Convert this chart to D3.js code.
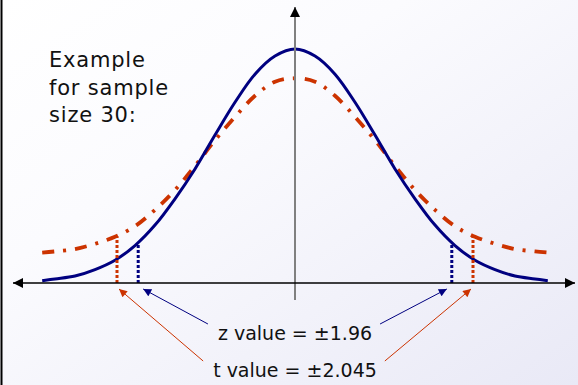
<!doctype html>
<html lang="en">
<head>
<meta charset="utf-8">
<title>z vs t distribution</title>
<script src="https://cdn.jsdelivr.net/npm/d3@7"></script>
<style>
	html, body { margin:0; padding:0; }
	body { width:578px; height:385px; overflow:hidden; }
	text { font-family: "DejaVu Sans", Verdana, sans-serif; fill:#111; }
</style>
</head>
<body>
<svg id="chart" width="578" height="385"></svg>
<script>
// half-curve samples (x in z units, y in density units), mirrored around 0
var xs        = [0, 0.25, 0.5, 0.75, 1.0, 1.25, 1.5, 1.75, 2.0, 2.25, 2.5, 2.75, 3.0, 3.16];
var zDensity  = [0.400, 0.388, 0.357, 0.309, 0.253, 0.195, 0.144, 0.099, 0.064, 0.039, 0.023, 0.012, 0.007, 0.004];
var tDensity  = [0.350, 0.344, 0.320, 0.284, 0.244, 0.200, 0.159, 0.125, 0.097, 0.079, 0.067, 0.058, 0.054, 0.052];

// critical value markers: where they sit on the drawing, and their heights
var zCrit = 1.96,  zCritHeight = 0.068;
var tCrit = 2.225, tCritHeight = 0.080;

var noteLines = ["Example", "for sample", "size 30:"];
var zLabel = "z value = \u00b11.96";
var tLabel = "t value = \u00b12.045";

var svg = d3.select("#chart");
var W = 578, H = 385;

var xScale = d3.scaleLinear().domain([-3.5, 3.5]).range([15, 575]);
var yScale = d3.scaleLinear().domain([0, 0.4]).range([283, 49]);

// background gradient + left border
var defs = svg.append("defs");
var grad = defs.append("linearGradient").attr("id", "bg")
	.attr("x1", "0").attr("y1", "0").attr("x2", "1").attr("y2", "1");
grad.append("stop").attr("offset", "0").attr("stop-color", "#ffffff");
grad.append("stop").attr("offset", "0.35").attr("stop-color", "#fbfbfe");
grad.append("stop").attr("offset", "1").attr("stop-color", "#e9e9f6");
svg.append("rect").attr("width", W).attr("height", H).attr("fill", "url(#bg)");
svg.append("line").attr("x1", 1.5).attr("x2", 1.5).attr("y1", 0).attr("y2", H)
	.attr("stroke", "#000").attr("stroke-width", 2);

function marker(id, color, len, wid) {
	defs.append("marker").attr("id", id)
		.attr("markerUnits", "userSpaceOnUse")
		.attr("viewBox", "0 0 10 10").attr("refX", 10).attr("refY", 5)
		.attr("markerWidth", len).attr("markerHeight", wid)
		.attr("orient", "auto")
		.append("path").attr("d", "M0,0L10,5L0,10z").attr("fill", color);
}
marker("axisHead", "#000", 12, 10);
marker("navyHead", "#000080", 10, 8);
marker("redHead", "#cc3300", 10, 8);

function mirror(vals) {
	var pts = [];
	for (var i = xs.length - 1; i > 0; i--) pts.push([-xs[i], vals[i]]);
	for (var j = 0; j < xs.length; j++) pts.push([xs[j], vals[j]]);
	return pts;
}

var line = d3.line().curve(d3.curveCatmullRom)
	.x(function(d) { return xScale(d[0]); })
	.y(function(d) { return yScale(d[1]); });

// t curve (dash-dot)
svg.append("path").attr("d", line(mirror(tDensity)))
	.attr("fill", "none").attr("stroke", "#cc3300").attr("stroke-width", 3.8)
	.attr("stroke-dasharray", "12,9,3,9");

// z curve
svg.append("path").attr("d", line(mirror(zDensity)))
	.attr("fill", "none").attr("stroke", "#000080").attr("stroke-width", 3);

// dotted critical lines
[[zCrit, zCritHeight, "#000080"], [tCrit, tCritHeight, "#cc3300"]].forEach(function(c) {
	[-1, 1].forEach(function(s) {
		svg.append("line")
			.attr("x1", xScale(s * c[0])).attr("x2", xScale(s * c[0]))
			.attr("y1", yScale(0)).attr("y2", yScale(c[1]))
			.attr("stroke", c[2]).attr("stroke-width", 3)
			.attr("stroke-dasharray", "3,2");
	});
});

// axes
svg.append("line").attr("x1", xScale(0)).attr("x2", xScale(0))
	.attr("y1", 300).attr("y2", 7)
	.attr("stroke", "#808080").attr("stroke-width", 2)
	.attr("marker-end", "url(#axisHead)");
svg.append("line").attr("x1", xScale(0)).attr("x2", xScale(-3.5) - 2)
	.attr("y1", yScale(0)).attr("y2", yScale(0))
	.attr("stroke", "#000").attr("stroke-width", 1.5)
	.attr("marker-end", "url(#axisHead)");
svg.append("line").attr("x1", xScale(0)).attr("x2", xScale(3.5))
	.attr("y1", yScale(0)).attr("y2", yScale(0))
	.attr("stroke", "#000").attr("stroke-width", 1.5)
	.attr("marker-end", "url(#axisHead)");

// note text
var note = svg.append("text").attr("x", 49).attr("y", 67)
	.style("font-size", "21px").style("letter-spacing", "0.8px");
noteLines.forEach(function(t, i) {
	note.append("tspan").attr("x", 49).attr("dy", i === 0 ? 0 : 27.5).text(t);
});

// labels + pointer arrows
var labels = [
	{ text: zLabel, y: 340, crit: zCrit, color: "#000080", head: "navyHead", off: 5 },
	{ text: tLabel, y: 377, crit: tCrit, color: "#cc3300", head: "redHead", off: 2 }
];
labels.forEach(function(l) {
	var t = svg.append("text").attr("x", xScale(0)).attr("y", l.y)
		.attr("text-anchor", "middle").style("font-size", "19px").text(l.text);
	var bb = t.node().getBBox();
	[-1, 1].forEach(function(s) {
		var sx = s < 0 ? bb.x - 10 : bb.x + bb.width + 8;
		svg.append("line")
			.attr("x1", sx).attr("y1", l.y - 16)
			.attr("x2", xScale(s * l.crit) - s * l.off).attr("y2", yScale(0) + 6)
			.attr("stroke", l.color).attr("stroke-width", 1)
			.attr("marker-end", "url(#" + l.head + ")");
	});
});
</script>
</body>
</html>
